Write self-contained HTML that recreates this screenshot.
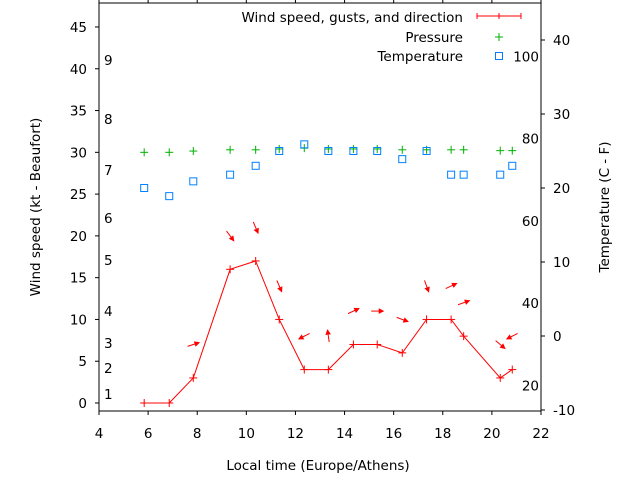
<!DOCTYPE html>
<html><head><meta charset="utf-8">
<style>
body{margin:0;background:#fff;}
svg{display:block;font-family:"DejaVu Sans","Liberation Sans",sans-serif;}
text{font-size:13.5px;fill:#000;}
</style></head>
<body>
<svg id="chart" width="640" height="480" xmlns="http://www.w3.org/2000/svg"></svg>
<script>
const hours=[5.84,6.86,7.84,9.34,10.38,11.34,12.36,13.34,14.36,15.33,16.35,17.34,18.34,18.85,20.34,20.83];
const windSpeed=[0,0,3,16,17,10,4,4,7,7,6,10,10,8,3,4];
const windDirDeg=[null,null,18,-53,-67,-67,207,98,25,0,-20,-70,25,20,-40,207];
const pressure=[30.0,30.0,30.15,30.3,30.3,30.4,30.5,30.4,30.4,30.4,30.3,30.3,30.3,30.3,30.2,30.2];
const temperatureC=[20,18.9,20.9,21.8,23,25,25.9,25,25,25,23.9,25,21.8,21.8,21.8,23];
const xTicks=[4,6,8,10,12,14,16,18,20,22];
const yTicks=[0,5,10,15,20,25,30,35,40,45];
const cTicks=[-10,0,10,20,30,40];
const fTicks=[20,40,60,80,100];
const beaufort=[[1,394],[2,368],[3,343],[4,311],[5,260],[6,218],[7,170],[8,119],[9,60]];

const L=99,R=541,T=3,B=411;
const sx=h=>L+(h-4)*(R-L)/18;
const sy=v=>403-v*8.356;
const sc=c=>336-c*7.4;
const svg=document.getElementById('chart');
const NS='http://www.w3.org/2000/svg';
function mk(tag,attrs,parent){const e=document.createElementNS(NS,tag);for(const k in attrs)e.setAttribute(k,attrs[k]);(parent||svg).appendChild(e);return e;}
function txt(x,y,s,anchor){const t=mk('text',{x:x,y:y,'text-anchor':anchor||'start'});t.textContent=s;return t;}

let e=mk('rect',{x:L,y:T,width:R-L,height:B-T,fill:'none',stroke:'#000','stroke-width':1});



xTicks.forEach(v=>{
  const x=sx(v);
  mk('line',{x1:x,x2:x,y1:B,y2:B+4,stroke:'#000'});
  mk('line',{x1:x,x2:x,y1:T,y2:T-4,stroke:'#000'});
  const t=txt(x,438,String(v),'middle');
  
  
});
yTicks.forEach(v=>{
  const y=sy(v);
  mk('line',{x1:L,x2:L-4,y1:y,y2:y,stroke:'#000'});
  const t=txt(87,y+5,String(v),'end');
  
  
});
cTicks.forEach(v=>{
  const y=sc(v);
  mk('line',{x1:R,x2:R+4,y1:y,y2:y,stroke:'#000'});
  const t=txt(553,y+5,String(v),'start');
  
  
});
fTicks.forEach(v=>{
  const c=(v-32)*5/9;
  const t=txt(539,sc(c)+5,String(v),'end');
  
  
});
beaufort.forEach(b=>{
  const t=txt(104,b[1]+5,String(b[0]),'start');
  
  
});

e=txt(318,470,'Local time (Europe/Athens)','middle');


e=txt(0,0,'Wind speed (kt - Beaufort)','middle');
e.setAttribute('transform','translate(40,207) rotate(-90)');


e=txt(0,0,'Temperature (C - F)','middle');
e.setAttribute('transform','translate(609,207) rotate(-90)');



function plus(x,y,col,name){
  const g=mk('g',{stroke:col,'stroke-width':1});
  
  
  mk('line',{x1:x-4,x2:x+4,y1:y,y2:y},g);mk('line',{x1:x,x2:x,y1:y-4,y2:y+4},g);
}
function square(x,y,name){
  const r=mk('rect',{x:x-3.5,y:y-3.5,width:7,height:7,fill:'none',stroke:'#0080ff','stroke-width':1});
  
  
}

hours.forEach((h,i)=>plus(sx(h),sy(pressure[i]),'#00b000','pressure-point'));
hours.forEach((h,i)=>square(sx(h),sc(temperatureC[i]),'temperature-point'));
e=mk('polyline',{points:hours.map((h,i)=>sx(h)+','+sy(windSpeed[i])).join(' '),fill:'none',stroke:'#ff0000','stroke-width':1});


hours.forEach((h,i)=>plus(sx(h),sy(windSpeed[i]),'#ff0000','wind-speed-point'));
hours.forEach((h,i)=>{
  const a=windDirDeg[i]; if(a===null) return;
  const cx=sx(h),cy=sy(windSpeed[i]+4);
  const rad=a*Math.PI/180,dx=Math.cos(rad)*6,dy=-Math.sin(rad)*6;
  const hx=cx+dx,hy=cy+dy,tx=cx-dx,ty=cy-dy;
  const g=mk('g',{});
  
  
  mk('line',{x1:tx,y1:ty,x2:hx,y2:hy,stroke:'#ff0000','stroke-width':1},g);
  const ux=dx/6,uy=dy/6,px=-uy,py=ux;
  const p=[[hx,hy],[hx-ux*4+px*2,hy-uy*4+py*2],[hx-ux*4-px*2,hy-uy*4-py*2]];
  mk('polygon',{points:p.map(q=>q.join(',')).join(' '),fill:'#ff0000',stroke:'#ff0000'},g);
});

const lg=mk('g',{});


e=txt(463,22,'Wind speed, gusts, and direction','end');lg.appendChild(e);


mk('line',{x1:477,x2:521,y1:16,y2:16,stroke:'#ff0000'},lg);
mk('line',{x1:477,x2:477,y1:13,y2:19,stroke:'#ff0000'},lg);
mk('line',{x1:521,x2:521,y1:13,y2:19,stroke:'#ff0000'},lg);
mk('line',{x1:499,x2:499,y1:13,y2:19,stroke:'#ff0000'},lg);
e=txt(463,42,'Pressure','end');lg.appendChild(e);


plus(499,37,'#00b000','legend-pressure-symbol');
e=txt(463,61,'Temperature','end');lg.appendChild(e);


square(499,56,'legend-temperature-symbol');
</script>
</body></html>
